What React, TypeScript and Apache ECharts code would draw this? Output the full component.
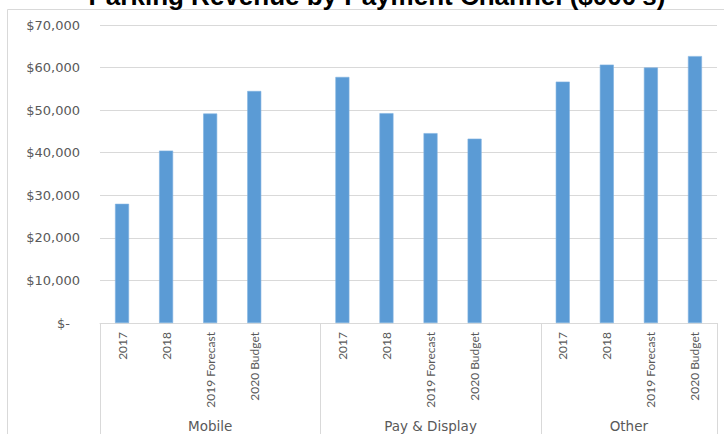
import React, { useEffect, useRef } from "react";
import * as echarts from "echarts";

const groups = ["Mobile", "Pay & Display", "Other"];
const periods = ["2017", "2018", "2019 Forecast", "2020 Budget"];
const mobile = [28000, 40500, 49200, 54500];
const payDisplay = [57800, 49300, 44600, 43300];
const other = [56700, 60700, 60000, 62700];
const groupValues = [mobile, payDisplay, other];
const titleText = "Parking Revenue by Payment Channel ($000's)";

export default function App() {
  const ref = useRef<HTMLDivElement>(null);
  useEffect(() => {
    if (!ref.current) return;
    const chart = echarts.init(ref.current, null, { renderer: "svg" });

    const categories: string[] = [];
    const values: (number | null)[] = [];
    const groupRanges: [number, number][] = [];
    groups.forEach((g, gi) => {
      const start = categories.length;
      periods.forEach((p, pi) => {
        categories.push(g + "|" + p);
        values.push(groupValues[gi][pi]);
      });
      if (gi < groups.length - 1) {
        categories.push(g + "|");
        values.push(null);
      }
      groupRanges.push([start, categories.length - 1]);
    });

    const gray = "#595959";
    const lineGray = "#d9d9d9";

    chart.setOption({
      animation: false,
      backgroundColor: "#ffffff",
      grid: { left: 100, right: 7, top: 25, bottom: 111 },
      xAxis: {
        type: "category",
        data: categories,
        boundaryGap: true,
        axisLine: { show: true, lineStyle: { color: lineGray, width: 1 } },
        axisTick: { show: false },
        axisLabel: {
          rotate: 90,
          margin: 9,
          interval: 0,
          color: gray,
          fontFamily: "Lato",
          fontSize: 12,
          formatter: (v: string) => v.split("|")[1],
        },
        splitLine: { show: false },
      },
      yAxis: {
        type: "value",
        min: 0,
        max: 70000,
        interval: 10000,
        axisLine: { show: false },
        axisTick: { show: false },
        splitLine: { lineStyle: { color: lineGray, width: 1 } },
        axisLabel: {
          margin: 20,
          color: gray,
          fontFamily: "DejaVu Sans",
          fontSize: 13,
          formatter: (v: number) =>
            v === 0 ? "{z|$-}" : "$" + v.toLocaleString("en-US"),
          rich: {
            z: {
              color: gray,
              fontFamily: "DejaVu Sans",
              fontSize: 13,
              padding: [0, 10, 0, 0],
            },
          },
        },
      },
      series: [
        {
          type: "bar",
          data: values,
          barWidth: 14,
          itemStyle: { color: "#5b9bd5", borderColor: "#7fb2e0", borderWidth: 0.6 },
        },
      ],
    });

    const px = (i: number) =>
      chart.convertToPixel({ xAxisIndex: 0 }, i) as unknown as number;
    const band = px(1) - px(0);
    const axisY = chart.convertToPixel({ yAxisIndex: 0 }, 0) as unknown as number;

    const graphics: any[] = [
      {
        type: "rect",
        shape: { x: 7.5, y: 9.5, width: 730, height: 440 },
        style: { fill: "none", stroke: lineGray, lineWidth: 1 },
        z: 0,
        silent: true,
      },
      {
        type: "text",
        x: 377,
        y: 9,
        style: {
          text: titleText,
          fontFamily: "Liberation Sans",
          fontWeight: "bold",
          fontSize: 26,
          fill: "#000000",
          textAlign: "center",
          textVerticalAlign: "bottom",
        },
        silent: true,
      },
    ];

    const bounds: number[] = [];
    groupRanges.forEach(([s, e], gi) => {
      const left = px(s) - band / 2;
      const right = px(e) + band / 2;
      if (gi === 0) bounds.push(left);
      bounds.push(right);
      graphics.push({
        type: "text",
        x: (left + right) / 2,
        y: 426,
        style: {
          text: groups[gi],
          fontFamily: "DejaVu Sans",
          fontSize: 13.5,
          fill: gray,
          textAlign: "center",
          textVerticalAlign: "middle",
        },
        silent: true,
      });
    });
    bounds.forEach((b) => {
      const x = Math.round(b) + 0.5;
      graphics.push({
        type: "line",
        shape: { x1: x, y1: axisY, x2: x, y2: 440 },
        style: { stroke: lineGray, lineWidth: 1 },
        silent: true,
      });
    });

    chart.setOption({ graphic: graphics });

    return () => chart.dispose();
  }, []);

  return (
    <div
      ref={ref}
      style={{ position: "fixed", left: 0, top: 0, width: 724, height: 434 }}
    />
  );
}
